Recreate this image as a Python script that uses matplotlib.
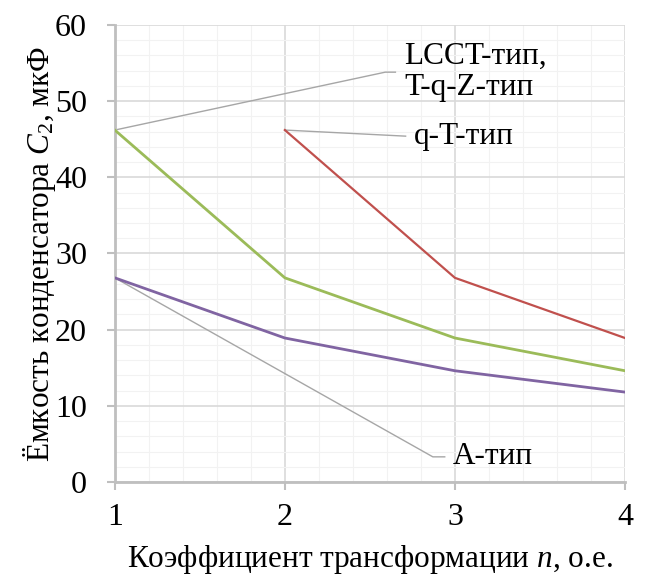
import matplotlib
matplotlib.use("Agg")
from matplotlib import pyplot as plt
from matplotlib.ticker import MultipleLocator

plt.rcParams['font.family'] = 'serif'
plt.rcParams['font.serif'] = ['Liberation Serif', 'DejaVu Serif']
plt.rcParams['mathtext.fontset'] = 'custom'
plt.rcParams['mathtext.rm'] = 'Liberation Serif'
plt.rcParams['mathtext.it'] = 'Liberation Serif:italic'

# data
n_green = [1, 2, 3, 4]
c_green = [46.2, 26.8, 18.9, 14.6]
n_red = [2, 3, 4]
c_red = [46.2, 26.8, 18.9]
n_purple = [1, 2, 3, 4]
c_purple = [26.8, 18.9, 14.6, 11.8]

labels = ['LCCT-тип,\nT-q-Z-тип', 'q-T-тип', 'A-тип']
label_anchor = [(n_green[0], c_green[0]), (n_red[0], c_red[0]), (n_purple[0], c_purple[0])]
label_pos = [(2.70, 53.8), (2.76, 45.4), (2.99, 3.3)]
label_elbow = [0.11, 0.0, 0.12]

fig = plt.figure(figsize=(6.45, 5.8), dpi=100)
ax = fig.add_axes([0.178, 0.169, 0.791, 0.788])

ax.plot(n_green, c_green, color='#9BBB59', lw=2, zorder=3)
ax.plot(n_red, c_red, color='#C0504D', lw=1.6, zorder=3)
ax.plot(n_purple, c_purple, color='#8064A2', lw=2, zorder=3)

for lab, (ax0, ay0), (tx, ty), el in zip(labels, label_anchor, label_pos, label_elbow):
    if el > 0:
        xs = [ax0, tx - el, tx - 0.05]
        ys = [ay0, ty, ty]
    else:
        xs = [ax0, tx - 0.05]
        ys = [ay0, ty]
    ax.plot(xs, ys, color='#A6A6A6', lw=1, zorder=2)
    ax.text(tx, ty, lab, ha='left', va='center', fontsize=22.5, linespacing=1.1)

ax.set_xlim(1, 4)
ax.set_ylim(0, 60)
ax.xaxis.set_major_locator(MultipleLocator(1))
ax.xaxis.set_minor_locator(MultipleLocator(0.2))
ax.yaxis.set_major_locator(MultipleLocator(10))
ax.yaxis.set_minor_locator(MultipleLocator(2))
ax.grid(which='major', color='#D9D9D9', lw=1.2)
ax.grid(which='minor', color='#F2F2F2', lw=0.8)
ax.set_axisbelow(True)

for s in ['top', 'right']:
    ax.spines[s].set_visible(False)
for s in ['left', 'bottom']:
    ax.spines[s].set_color('#BFBFBF')
    ax.spines[s].set_linewidth(2)
ax.tick_params(which='major', length=6, width=1.5, color='#BFBFBF', labelsize=23)
ax.tick_params(axis='y', which='major', pad=14)
ax.tick_params(axis='x', which='major', pad=9)
ax.tick_params(which='minor', length=0)

ax.set_xlabel('Коэффициент трансформации $n$, о.е.', fontsize=22.5, labelpad=8)
ax.set_ylabel('Ёмкость конденсатора $C_2$, мкФ', fontsize=22.5, labelpad=-2)

fig.savefig('out.png', dpi=100)
